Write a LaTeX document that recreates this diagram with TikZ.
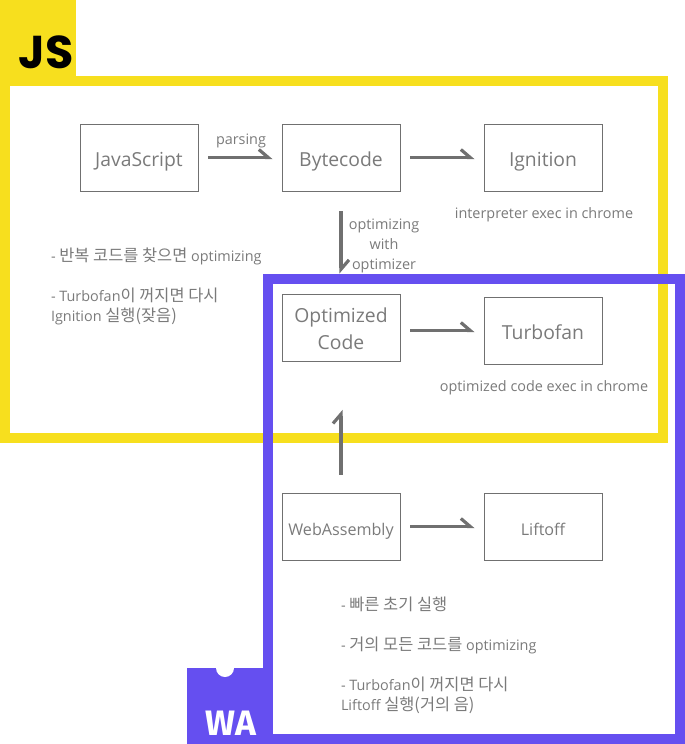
\documentclass[tikz,border=0pt]{standalone}
\usepackage{fontspec}
\setmainfont{Open Sans}
\newfontfamily\krfont{Noto Sans CJK KR}
\newfontfamily\jsfont{Poppins}
\newfontfamily\wafont{Fira Sans}
\newcommand{\kr}[1]{{\krfont\fontsize{12.3}{15}\selectfont #1}}
\usetikzlibrary{arrows.meta,positioning}
\definecolor{jsyellow}{HTML}{F7DF1E}
\definecolor{wapurple}{HTML}{654FF0}
\definecolor{boxgray}{HTML}{707070}
\definecolor{txtgray}{HTML}{7A7A7A}
\def\boxsep{151.5pt}
\tikzset{
  engine/.style={
    rectangle,
    draw=boxgray,
    line width=0.7pt,
    minimum width=88.5pt,
    minimum height=50.25pt,
    inner sep=0pt,
    align=center,
    text=txtgray,
    text height=13.5pt,
    text depth=0pt,
    font=\fontsize{14.5}{20.25}\selectfont,
  },
  small/.style={font=\fontsize{12.1}{18}\selectfont},
  caption/.style={
    inner sep=0pt,
    outer sep=0pt,
    align=center,
    text=txtgray,
    font=\fontsize{10.8}{15}\selectfont,
  },
  note/.style={caption, align=left, anchor=north west},
  flow/.style={
    -{Straight Barb[harpoon,length=7pt,width=12pt,line width=2.4pt]},
    boxgray,
    line width=2.6pt,
  },
  frame/.style={line width=7.5pt, miter limit=10},
}

\begin{document}
\begin{tikzpicture}[x=0.75pt, y=-0.75pt, node distance=\boxsep]
    \useasboundingbox (0,0) rectangle (685,744);

    %% JS frame
    \fill[jsyellow] (0,0) rectangle (76,86);
    \draw[frame, jsyellow] (5,81) rectangle (663,438);
    \node[inner sep=0pt, font=\jsfont\bfseries\fontsize{34.5}{34.5}\selectfont] (jslogo) at (46,52.5) {JS};

    %% Nodes
    \node[engine] (js) at (139,157.5) {JavaScript};
    \node[engine, right of=js] (bytecode) {Bytecode};
    \node[engine, right of=bytecode] (ignition) {Ignition};
    \node[engine, text height=33.3pt] (optcode) at (341,327.5) {Optimized\\Code};
    \node[engine, right of=optcode, yshift=-2.25pt] (turbofan) {Turbofan};
    \node[engine, small] (wasm) at (341,526.5) {WebAssembly};
    \node[engine, small, right of=wasm] (liftoff) {Liftoff};

    %% Captions
    \node[caption] (parsing) at (241,141) {parsing};
    \node[caption] (interp) at (544,215) {interpreter exec in chrome};
    \node[caption] (optwith) at (384,246) {optimizing\\with\\optimizer};
    \node[caption] (optexec) at (544,388) {optimized code exec in chrome};

    %% Notes
    \node[note] (jsnote) at (51,248) {- \kr{반복 코드를 찾으면} optimizing\\[15pt]- Turbofan\kr{이 꺼지면 다시}\\Ignition \kr{실행(잦음)}};
    \node[note] (wanote) at (341,597) {- \kr{빠른 초기 실행}\\[15pt]- \kr{거의 모든 코드를} optimizing\\[15pt]- Turbofan\kr{이 꺼지면 다시}\\Liftoff \kr{실행(거의 음)}};

    %% Edges
    \draw[flow, shorten <=7.5pt, shorten >=6.75pt] (js) -- (bytecode);
    \draw[flow, shorten <=7.5pt, shorten >=6.75pt] (bytecode) -- (ignition);
    \draw[flow, shorten <=15pt, shorten >=15pt] (bytecode) -- (optcode);
    \draw[flow, shorten <=7.5pt, shorten >=6.75pt] (optcode.east |- turbofan) -- (turbofan);
    \draw[flow, shorten <=13.5pt, shorten >=36.25pt] (wasm) -- (optcode);
    \draw[flow, shorten <=7.5pt, shorten >=6.75pt] (wasm) -- (liftoff);

    %% WA frame
    \draw[frame, wapurple] (268,279) rectangle (680,739);
    \fill[wapurple] (187,668) rectangle (273,744);
    \fill[white] (225,668) circle (9);
    \node[inner sep=0pt, text=white, font=\wafont\bfseries\fontsize{26.5}{26.5}\selectfont] (walogo) at (231,723) {WA};
\end{tikzpicture}
\end{document}
